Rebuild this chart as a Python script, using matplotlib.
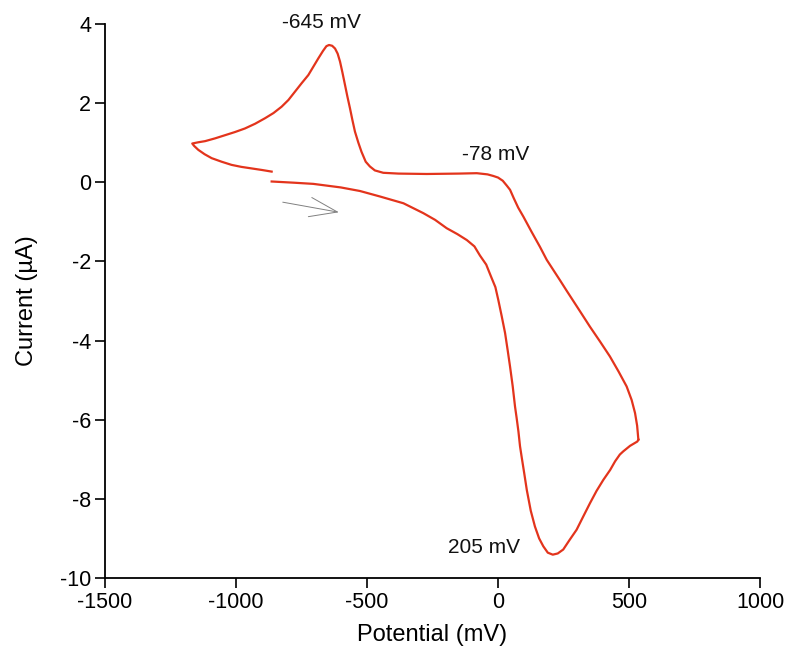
"""Cyclic voltammogram recreated with matplotlib."""

import matplotlib

matplotlib.use("Agg")
import matplotlib.pyplot as plt

plt.rcParams["font.family"] = ["Liberation Sans", "DejaVu Sans"]
plt.rcParams["axes.unicode_minus"] = False

# forward scan (lower branch), start at -864 mV going positive
forward_mv = [
    -864, -780, -705, -600, -527, -450, -361, -285, -240, -196,
    -155, -119, -90, -69, -45, -28, -10, 1, 14, 27,
    37, 46, 56, 65, 71, 78, 84, 90, 100, 110,
    125, 141, 157, 173, 190, 209, 228, 249, 272, 300,
    325, 351, 376, 402, 428, 447, 465, 478, 504, 532, 536,
]
forward_ua = [
    0.02, -0.01, -0.04, -0.13, -0.22, -0.36, -0.53, -0.78, -0.95, -1.16,
    -1.31, -1.46, -1.62, -1.85, -2.08, -2.36, -2.65, -2.97, -3.38, -3.81,
    -4.25, -4.66, -5.15, -5.67, -5.95, -6.30, -6.67, -6.93, -7.35, -7.78,
    -8.30, -8.70, -9.00, -9.20, -9.36, -9.41, -9.38, -9.28, -9.05, -8.78,
    -8.45, -8.11, -7.80, -7.52, -7.27, -7.05, -6.88, -6.80, -6.66, -6.55, -6.50,
]

# return scan (upper branch) back to the negative vertex and on to -864 mV
reverse_mv = [
    536, 535, 531, 523, 510, 491, 460, 427, 389, 351,
    313, 262, 237, 186, 160, 128, 97, 77, 60, 46,
    33, 18, 0, -18, -40, -81, -150, -272, -380, -438,
    -470, -489, -505, -521, -533, -546, -556, -565, -575, -584,
    -594, -603, -612, -622, -633, -645, -655, -668, -686, -705,
    -724, -750, -775, -800, -826, -857, -889, -927, -966, -1004,
    -1042, -1080, -1118, -1145, -1167, -1160, -1144, -1120, -1093, -1055,
    -1017, -980, -940, -900, -864,
]
reverse_ua = [
    -6.50, -6.45, -6.15, -5.83, -5.50, -5.16, -4.78, -4.40, -4.02, -3.65,
    -3.26, -2.74, -2.48, -1.96, -1.63, -1.25, -0.87, -0.64, -0.40, -0.19,
    -0.08, 0.04, 0.12, 0.16, 0.20, 0.23, 0.22, 0.21, 0.22, 0.24,
    0.30, 0.40, 0.52, 0.77, 1.00, 1.28, 1.58, 1.87, 2.17, 2.46,
    2.78, 3.05, 3.25, 3.38, 3.45, 3.47, 3.44, 3.32, 3.13, 2.92,
    2.71, 2.50, 2.29, 2.08, 1.91, 1.75, 1.62, 1.48, 1.36, 1.27,
    1.19, 1.11, 1.04, 1.01, 0.98, 0.92, 0.82, 0.71, 0.61, 0.52,
    0.44, 0.39, 0.35, 0.31, 0.27,
]

peak_labels = ["-645 mV", "-78 mV", "205 mV"]
label_x = [-673, -8, -53]
label_y = [4.05, 0.69, -9.23]

fig = plt.figure(figsize=(7.92, 6.56), dpi=100)
ax = fig.add_axes([0.1326, 0.1189, 0.8270, 0.8445])

line_color = "#e3341c"
ax.plot(forward_mv, forward_ua, color=line_color, lw=1.6)
ax.plot(reverse_mv, reverse_ua, color=line_color, lw=1.6)

for text, tx, ty in zip(peak_labels, label_x, label_y):
    ax.text(tx, ty, text, fontsize=15, ha="center", va="center", color="#111111")

# scan direction arrow
ax.annotate(
    "",
    xy=(-597, -0.77),
    xytext=(-832, -0.49),
    arrowprops=dict(arrowstyle="->,head_length=1.0,head_width=0.35",
                    color="#808080", lw=0.7, mutation_scale=20),
)

ax.set_xlim(-1500, 1000)
ax.set_ylim(-10, 4)
ax.set_xticks([-1500, -1000, -500, 0, 500, 1000])
ax.set_yticks([-10, -8, -6, -4, -2, 0, 2, 4])

for side in ("top", "right"):
    ax.spines[side].set_visible(False)
for side in ("left", "bottom"):
    ax.spines[side].set_linewidth(1.3)

ax.tick_params(direction="out", length=7, width=1.2, labelsize=15.5, pad=3)
ax.set_xlabel("Potential (mV)", fontsize=17, labelpad=8)
ax.set_ylabel("Current (µA)", fontsize=17, labelpad=16)

fig.savefig("out.png", dpi=100)
